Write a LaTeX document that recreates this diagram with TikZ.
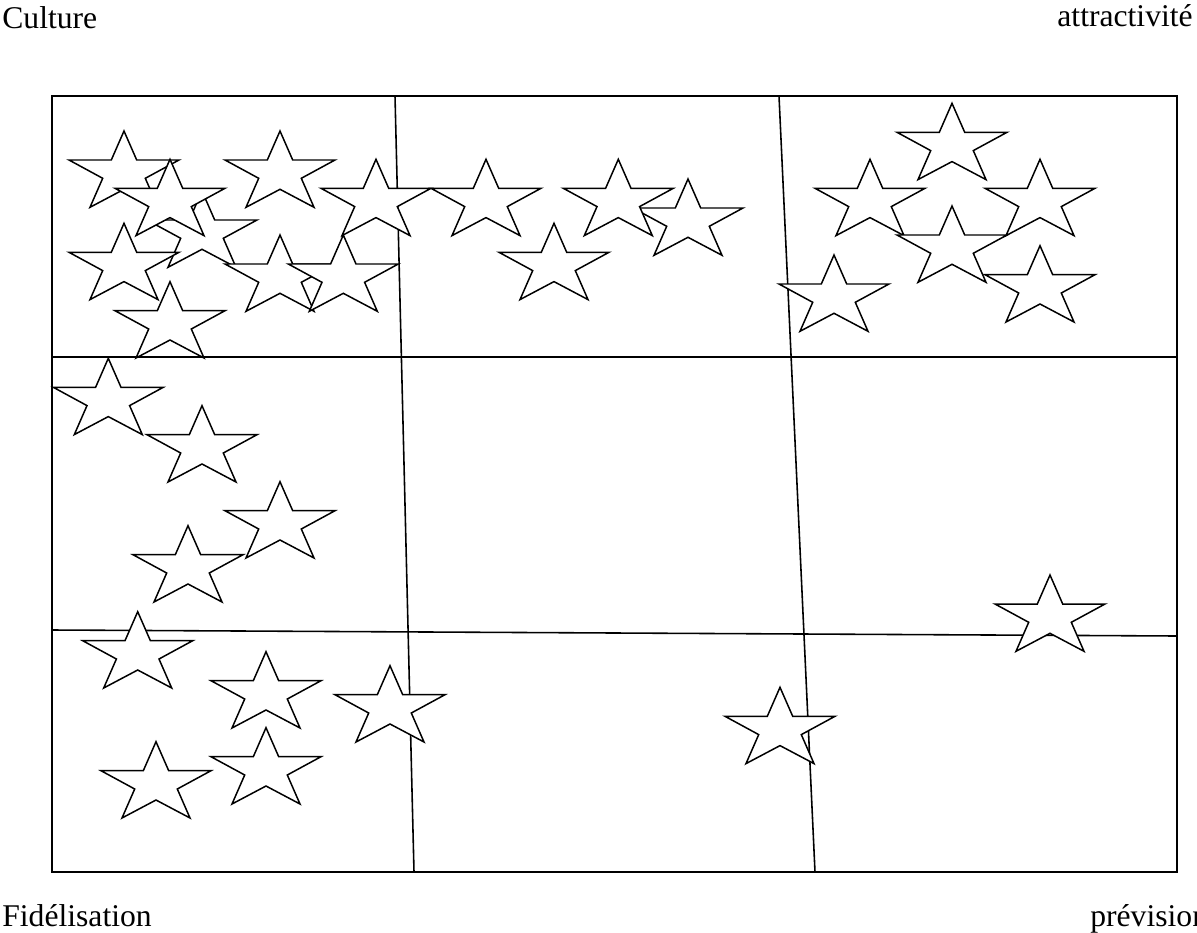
\documentclass[tikz,border=0pt]{standalone}
\usepackage{fontspec}
\setmainfont{Liberation Serif}

\begin{document}
\begin{tikzpicture}[x=0.02cm,y=-0.02cm,
  cadre/.style={line width=1.1pt},
  trait/.style={line width=0.9pt},
  titre/.style={inner sep=0pt,font=\fontsize{18}{22}\selectfont},
  etoile/.pic={\filldraw[fill=white,line width=0.85pt] (0,0) -- (12.7,29) -- (55,29) -- (21.3,47.3) -- (34,76.3)
    -- (0,58.3) -- (-34,76.3) -- (-21.3,47.3) -- (-55,29) -- (-12.7,29) -- cycle;}]
\useasboundingbox (0,0) rectangle (1197,933);

% corners and lines of the grid
\coordinate (nw) at (52,96);
\coordinate (se) at (1177,872);
\coordinate (v1t) at (395,96);
\coordinate (v1b) at (414,872);
\coordinate (v2t) at (779,96);
\coordinate (v2b) at (815,872);
\coordinate (h1l) at (52,357);
\coordinate (h1r) at (1177,357);
\coordinate (h2l) at (52,630);
\coordinate (h2r) at (1177,636);

\draw[cadre] (nw) rectangle (se);
\draw[trait] (v1t) -- (v1b);
\draw[trait] (v2t) -- (v2b);
\draw[trait] (h1l) -- (h1r);
\draw[trait] (h2l) -- (h2r);

% stars
\foreach \x/\y in {202/191, 124/131, 170/159.3, 124/223.3, 280/131, 376/159.3, 280/235, 343.3/235, 170/281.7,
  486/159.3, 688/179, 618.3/159.3, 554/223.3,
  952/103.3, 870/159.3, 1040/159.3, 952/206, 1040/245.7, 834/255,
  108.3/358.3, 202/405.7, 280/481.7, 188/525.7,
  137.7/611.7, 266/651.7, 390/665.7, 156/741.7, 266/727.7,
  780/687.3, 1050/575}
  \pic at (\x,\y) {etoile};

% corner labels
\node[titre,anchor=base west] (culture) at (2,29) {Culture};
\node[titre,anchor=base east] (attract) at (1193,27) {attractivité};
\node[titre,anchor=base west] (fidel) at (2,926) {Fidélisation};
\node[titre,anchor=base west] (prev) at (1090,926) {prévision};
\end{tikzpicture}
\end{document}
